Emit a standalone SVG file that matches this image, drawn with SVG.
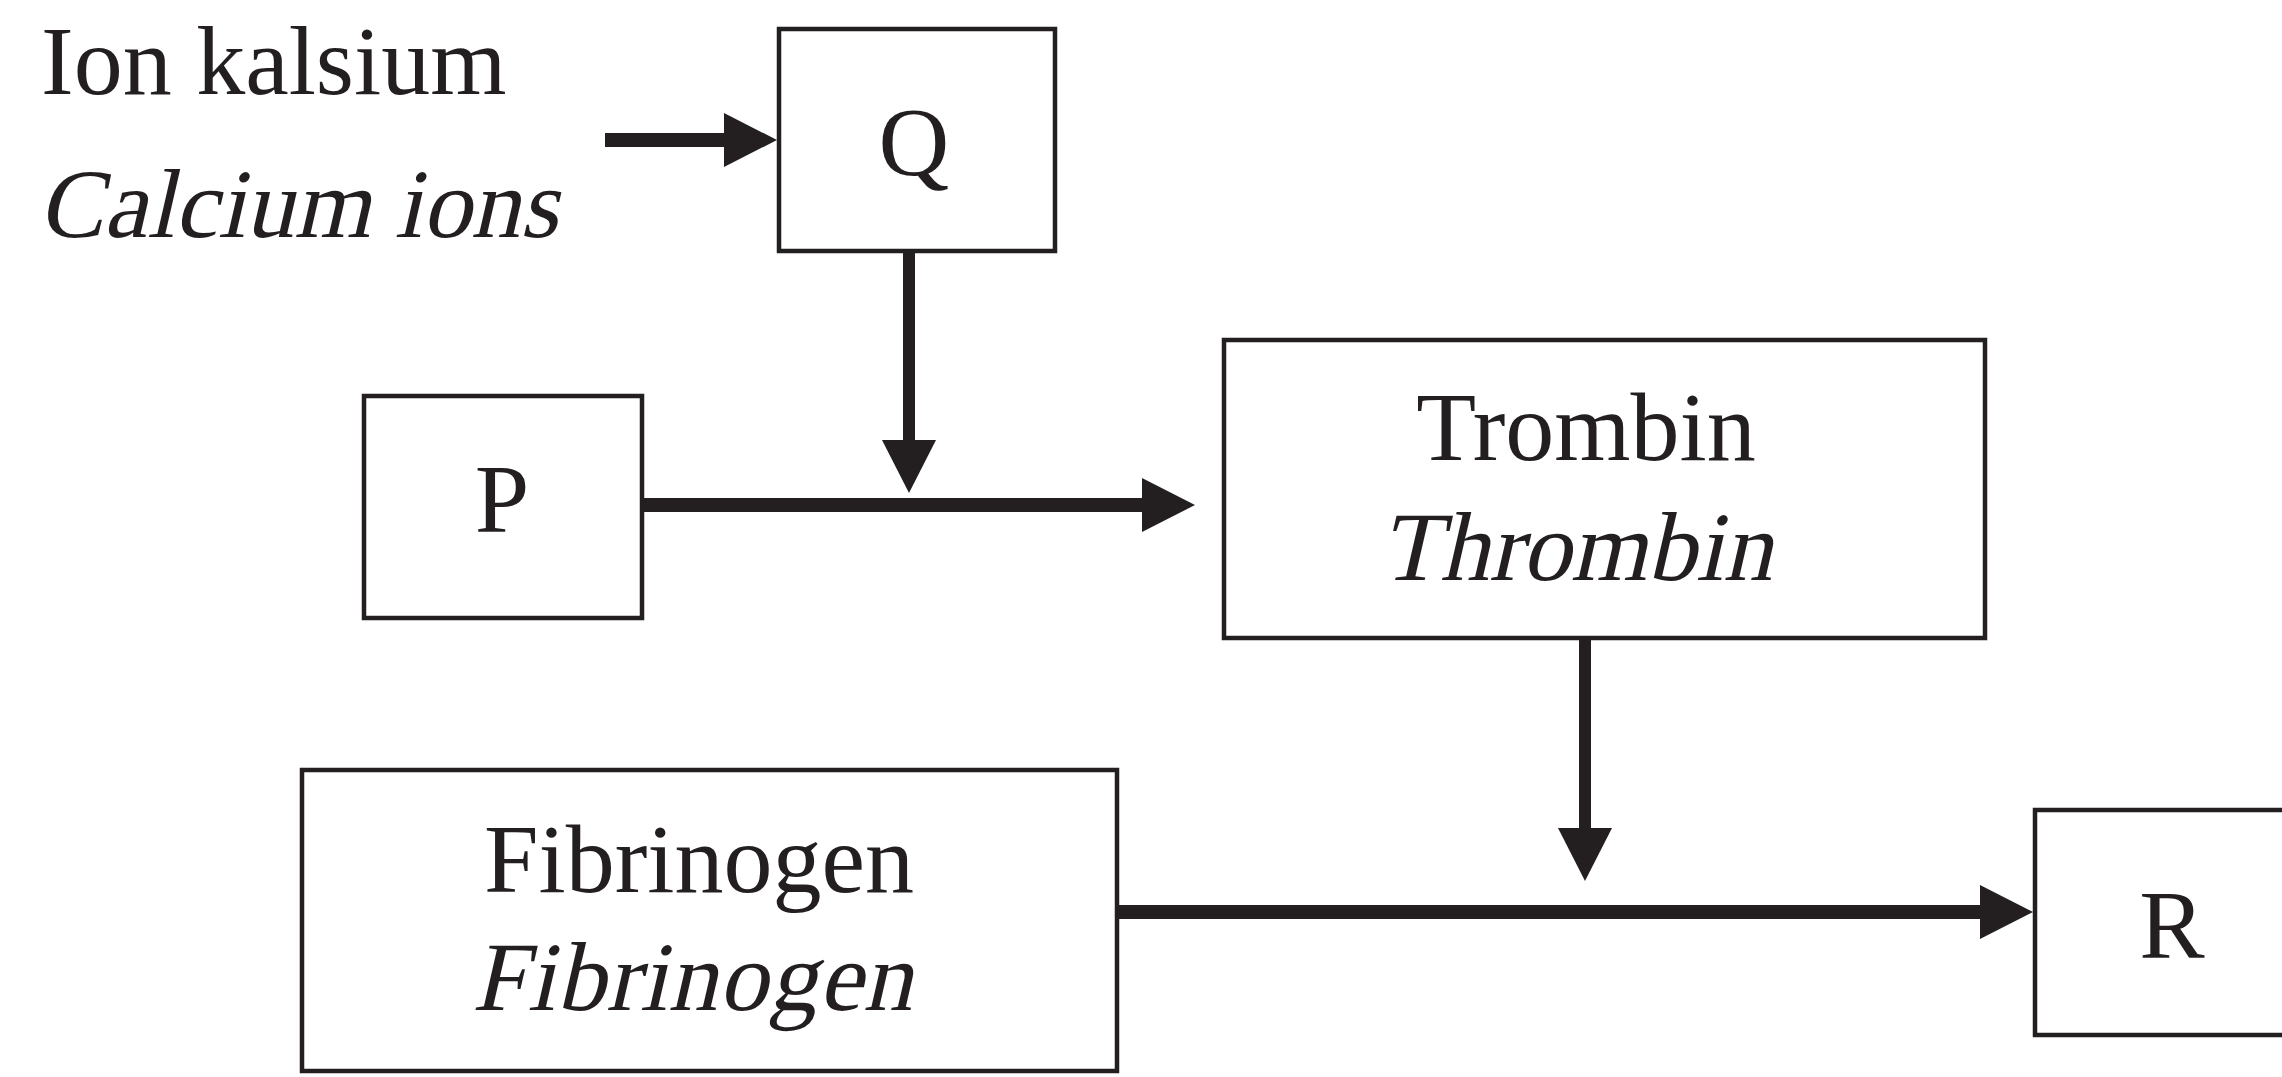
<svg xmlns="http://www.w3.org/2000/svg" width="2282" height="1077" viewBox="0 0 2282 1077">
<style>
.box{fill:#fff;stroke:#231f20;stroke-width:4.5}
.t{font-family:"Liberation Serif","Times New Roman",serif;font-size:98px;fill:#231f20}
.c{text-anchor:middle}
.ln{fill:none;stroke:#231f20}
.h{stroke-width:14}
.v{stroke-width:12}
</style>
<defs>
<marker id="ah" viewBox="0 0 53 54" refX="10" refY="27" markerWidth="53" markerHeight="54" markerUnits="userSpaceOnUse" orient="auto">
<path d="M0 0 L53 27 L0 54 Z" fill="#231f20"/>
</marker>
</defs>
<rect width="2282" height="1077" fill="#fff"/>
<g id="calcium">
<text class="t" x="41" y="94">Ion kalsium</text>
<text class="t" transform="translate(38 237) skewX(-13)" x="0" y="0" textLength="520">Calcium ions</text>
</g>
<g id="nodeQ">
<rect class="box" x="779" y="29" width="276" height="222"/>
<text class="t c" x="914" y="175">Q</text>
</g>
<g id="nodeP">
<rect class="box" x="364" y="396" width="278" height="222"/>
<text class="t c" x="502" y="532">P</text>
</g>
<g id="nodeTrombin">
<rect class="box" x="1224" y="340" width="761" height="298"/>
<text class="t c" x="1586" y="460">Trombin</text>
<text class="t c" transform="translate(1576 580) skewX(-13)" x="0" y="0">Thrombin</text>
</g>
<g id="nodeFibrinogen">
<rect class="box" x="302" y="770" width="815" height="301"/>
<text class="t c" x="699" y="892">Fibrinogen</text>
<text class="t c" transform="translate(692 1010) skewX(-13)" x="0" y="0" textLength="440">Fibrinogen</text>
</g>
<g id="nodeR">
<rect class="box" x="2035" y="810" width="300" height="225"/>
<text class="t c" x="2172" y="958">R</text>
</g>
<g id="connectors">
<path class="ln h" d="M605 140 H734" marker-end="url(#ah)"/>
<path class="ln v" d="M909 251 V450" marker-end="url(#ah)"/>
<path class="ln h" d="M642 505 H1152" marker-end="url(#ah)"/>
<path class="ln v" d="M1585 638 V838" marker-end="url(#ah)"/>
<path class="ln h" d="M1117 912 H1990" marker-end="url(#ah)"/>
</g>
</svg>
